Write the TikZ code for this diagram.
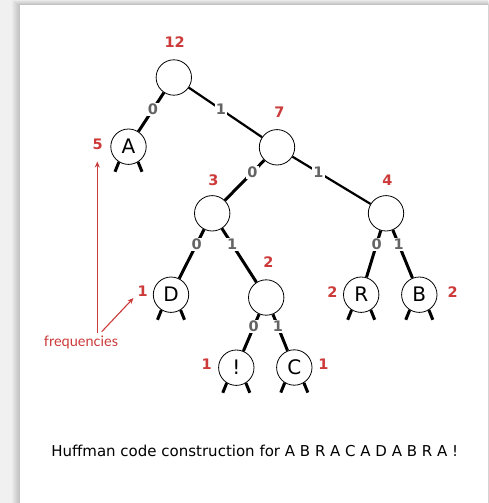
\documentclass[tikz,border=0pt]{standalone}
\usepackage{fontspec}
\setmainfont{DejaVu Sans}
\newfontfamily\freqfont{Lato}
\usetikzlibrary{calc,arrows.meta}
\definecolor{fred}{RGB}{204,58,58}
\definecolor{egray}{RGB}{100,100,100}
\definecolor{bggray}{RGB}{240,240,240}
\newcommand\leafstubs[1]{%
  \draw[stubline] (#1.238) -- ++(248:10.5pt);
  \draw[stubline] (#1.302) -- ++(292:10.5pt);}
\begin{document}
\begin{tikzpicture}[x=1pt,y=-1pt,
  tnode/.style={circle,draw,line width=0.8pt,minimum size=35.4pt,inner sep=0pt,
    font=\fontsize{20}{20}\selectfont},
  edgeline/.style={line width=3pt},
  thinedge/.style={line width=2.2pt},
  stubline/.style={line width=3pt},
  elabel/.style={fill=white,text=egray,font=\fontsize{14.5}{14.5}\selectfont\bfseries,inner sep=1.2pt},
  freq/.style={text=fred,font=\fontsize{14.5}{14.5}\selectfont\bfseries,inner sep=0pt},
  farrow/.style={draw=fred,line width=1.1pt,-{Stealth[length=6pt,width=5pt]}},
]
\useasboundingbox (0,0) rectangle (488,503);
\fill[bggray] (0,0) rectangle (488,503);
\foreach \k in {1,...,8} \fill[black,opacity=0.022] (20-\k,5-0.6*\k) rectangle (500,515);
\fill[white] (20,5) rectangle (488,503);

% nodes
\node[tnode] (root) at (173.8,77.5) {};
\node[tnode] (A) at (128.5,146.7) {A};
\node[tnode] (n7) at (277,147.3) {};
\node[tnode] (n3) at (212.2,213.3) {};
\node[tnode] (n4) at (386,213.3) {};
\node[tnode] (D) at (171,294.7) {D};
\node[tnode] (n2) at (266.2,297.5) {};
\node[tnode] (R) at (361.2,294.7) {R};
\node[tnode] (B) at (419.3,294.7) {B};
\node[tnode] (X) at (236.3,367.7) {!};
\node[tnode] (C) at (294.3,367.5) {C};

% edges
\draw[edgeline] (root) -- (A);
\draw[thinedge] (root) -- (n7);
\draw[edgeline] (n7) -- (n3);
\draw[thinedge] (n7) -- (n4);
\draw[edgeline] (n3) -- (D);
\draw[edgeline] (n3) -- (n2);
\draw[edgeline] (n4) -- (R);
\draw[edgeline] (n4) -- (B);
\draw[edgeline] (n2) -- (X);
\draw[edgeline] (n2) -- (C);

% edge labels
\node[elabel] (e1) at ($(root)!0.46!(A)$) {0};
\node[elabel] (e2) at ($(root)!0.456!(n7)$) {1};
\node[elabel] (e3) at ($(n7)!0.38!(n3)$) {0};
\node[elabel] (e4) at ($(n7)!0.38!(n4)$) {1};
\node[elabel] (e5) at ($(n3)!0.38!(D)$) {0};
\node[elabel] (e6) at ($(n3)!0.37!(n2)$) {1};
\node[elabel] (e7) at ($(n4)!0.38!(R)$) {0};
\node[elabel] (e8) at ($(n4)!0.38!(B)$) {1};
\node[elabel] (e9) at ($(n2)!0.416!(X)$) {0};
\node[elabel] (e10) at ($(n2)!0.416!(C)$) {1};

% leaf stubs
\leafstubs{A}
\leafstubs{D}
\leafstubs{R}
\leafstubs{B}
\leafstubs{X}
\leafstubs{C}

% frequencies
\node[freq] (f12) at (174.7,42.5) {12};
\node[freq] (f5) at (97.7,144) {5};
\node[freq] (f7) at (279.3,112.7) {7};
\node[freq] (f3) at (213.3,180) {3};
\node[freq] (f4) at (387.3,180) {4};
\node[freq] (fD) at (142.7,291.7) {1};
\node[freq] (f2) at (268.3,261.7) {2};
\node[freq] (fR) at (332.3,291.7) {2};
\node[freq] (fB) at (452.7,291.7) {2};
\node[freq] (fX) at (206.7,364) {1};
\node[freq] (fC) at (323.3,364) {1};

% annotation
\node[text=fred,font=\freqfont\fontsize{14.5}{14.5}\selectfont,inner sep=0pt] (freqtext) at (81,342.7) {frequencies};
\coordinate (s1) at (97.3,333);
\coordinate (t1) at (97.3,161.5);
\coordinate (s2) at (101.7,331.7);
\coordinate (t2) at (133.5,298);
\draw[farrow] (s1) -- (t1);
\draw[farrow] (s2) -- (t2);

% caption
\node[font=\fontsize{15}{15}\selectfont,inner sep=0pt] (cap) at (254.7,450.7) {Huffman code construction for A B R A C A D A B R A !};
\end{tikzpicture}
\end{document}
